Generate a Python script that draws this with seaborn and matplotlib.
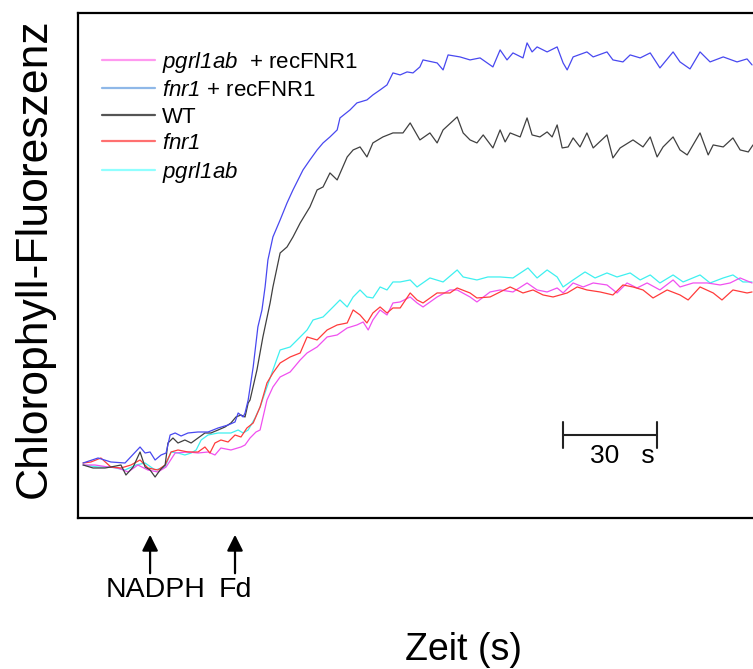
import pandas as pd
import seaborn as sns
import matplotlib.pyplot as plt
from matplotlib.lines import Line2D

sns.set_theme(style="white")
plt.rcParams['font.family'] = ['Liberation Sans', 'DejaVu Sans']
plt.rcParams['text.color'] = 'black'
# only the mutant names are in math mode, so make math mode italic throughout
plt.rcParams['mathtext.fontset'] = 'custom'
plt.rcParams['mathtext.rm'] = 'Liberation Sans:italic'
plt.rcParams['mathtext.it'] = 'Liberation Sans:italic'

# time (s) and fluorescence (a.u.)
t_fnr1_rec = [1.6, 6.4, 10.5, 15.0, 19.8, 21.4, 23.0, 24.6, 26.5, 28.1, 29.4, 31.0, 32.9, 35.1, 38.3, 41.5,
              44.7, 47.9, 50.1, 51.1, 52.7, 53.3, 54.3, 55.9, 57.4, 58.7, 59.7, 60.6, 62.2, 64.5, 66.7, 68.6,
              70.2, 71.8, 74.0, 76.3, 78.2, 80.4, 82.7, 83.6, 86.8, 89.0, 92.2, 94.1, 96.4, 98.6, 100.5, 102.8,
              105.0, 106.9, 109.1, 110.1, 114.6, 116.5, 118.1, 121.9, 125.1, 128.3, 132.4, 134.7, 136.9, 138.8,
              142.0, 143.3, 144.9, 146.5, 149.7, 152.9, 154.8, 156.1, 158.0, 162.4, 164.4, 168.8, 170.7, 173.9,
              176.2, 179.4, 182.6, 185.7, 189.9, 192.1, 195.3, 198.5, 201.7, 205.9, 210.3, 213.5, 215.1]
f_fnr1_rec = [55, 60, 56, 55, 71, 65, 66, 58, 63, 65, 83, 85, 82, 85, 86, 86,
              90, 93, 96, 105, 101, 105, 118, 151, 191, 208, 231, 258, 281, 298, 315, 328,
              338, 348, 358, 368, 375, 381, 388, 400, 408, 415, 418, 423, 428, 433, 445, 443,
              446, 445, 451, 458, 455, 448, 463, 461, 458, 460, 451, 468, 458, 465,
              460, 475, 466, 471, 466, 471, 455, 448, 461, 466, 461, 466, 458, 456,
              463, 460, 465, 450, 466, 456, 449, 466, 456, 461, 456, 459, 453]

t_wt = [1.6, 4.8, 8.6, 10.5, 13.7, 15.3, 17.6, 19.8, 21.4, 23.0, 24.6, 26.2, 27.8, 28.7, 30.3, 31.9,
        34.1, 36.1, 38.3, 40.5, 42.4, 44.7, 46.9, 48.8, 50.4, 52.0, 53.3, 54.3, 54.9, 57.1, 59.0, 61.3,
        62.2, 64.5, 66.7, 68.6, 70.9, 74.0, 76.3, 78.2, 80.4, 82.7, 85.9, 87.8, 90.0, 92.2, 94.1, 97.3,
        100.5, 103.7, 106.0, 109.1, 112.3, 114.6, 116.5, 121.0, 122.9, 125.1, 127.3, 129.3, 132.4, 134.7,
        136.3, 137.9, 141.1, 143.3, 144.9, 147.4, 149.7, 151.3, 152.9, 154.5, 156.4, 158.0, 160.2, 162.4,
        164.4, 168.8, 170.7, 173.0, 177.1, 180.3, 182.6, 184.8, 186.7, 189.9, 192.1, 194.4, 198.5, 201.1,
        202.7, 205.9, 209.0, 211.3, 213.9, 215.4]
f_wt = [53, 50, 50, 51, 53, 43, 51, 66, 51, 48, 41, 48, 53, 75, 80, 75,
        78, 75, 80, 85, 85, 88, 91, 95, 101, 103, 101, 115, 118, 148, 181, 215,
        231, 265, 271, 281, 295, 311, 328, 331, 345, 338, 361, 368, 371, 361, 375, 381,
        385, 385, 395, 378, 385, 375, 388, 401, 385, 378, 375, 383, 370, 388,
        376, 385, 381, 400, 383, 381, 386, 381, 393, 370, 371, 380, 371, 385,
        370, 383, 360, 370, 378, 371, 381, 361, 371, 381, 368, 363, 385, 363,
        373, 371, 380, 368, 366, 373]

t_pgrl = [1.6, 6.4, 10.5, 15.0, 18.5, 21.4, 24.6, 27.8, 29.7, 31.9, 34.1, 36.1, 37.7, 39.3, 41.5, 44.7,
          48.8, 51.1, 52.7, 54.3, 56.5, 58.1, 60.3, 62.2, 64.5, 67.7, 70.9, 73.1, 75.0, 78.2, 81.4, 83.6,
          85.9, 87.8, 90.0, 92.2, 94.1, 96.4, 98.6, 100.5, 102.8, 106.0, 108.2, 112.3, 116.5, 121.0, 122.9,
          127.3, 130.8, 134.7, 138.8, 143.6, 146.5, 149.7, 152.9, 154.8, 158.0, 161.8, 165.0, 168.8, 172.0,
          176.2, 179.4, 182.6, 185.7, 189.9, 193.1, 198.5, 201.7, 205.9, 209.0, 212.2, 215.1]
f_pgrl = [53, 51, 51, 48, 53, 55, 48, 51, 66, 65, 63, 65, 68, 78, 83, 85,
          85, 88, 85, 88, 100, 111, 131, 148, 168, 171, 181, 188, 198, 201, 211, 218,
          211, 221, 228, 221, 220, 231, 228, 236, 236, 238, 231, 240, 236, 248, 241,
          238, 241, 241, 240, 250, 240, 248, 241, 231, 238, 246, 240, 245, 241,
          245, 238, 243, 235, 243, 236, 243, 235, 240, 243, 236, 236]

t_fnr1 = [1.6, 4.1, 7.3, 10.5, 13.7, 16.9, 19.8, 22.3, 25.5, 27.8, 29.7, 31.9, 35.1, 38.3, 40.5, 42.1,
          43.7, 45.6, 47.9, 50.1, 52.0, 53.9, 55.9, 58.1, 60.3, 62.2, 64.5, 67.7, 70.9, 73.1, 76.3, 79.5,
          82.7, 85.9, 87.8, 90.0, 92.2, 94.1, 96.4, 98.6, 100.5, 102.8, 106.0, 108.2, 110.1, 114.6, 118.7,
          121.0, 125.1, 127.3, 131.5, 134.7, 137.9, 142.0, 145.2, 148.4, 151.6, 156.1, 159.3, 162.4, 166.6,
          170.7, 173.9, 177.1, 180.3, 183.5, 188.0, 192.1, 194.7, 198.5, 202.7, 205.5, 209.0, 213.5, 215.1]
f_fnr1 = [55, 56, 60, 51, 50, 53, 58, 50, 48, 53, 66, 68, 66, 66, 71, 65,
          75, 78, 76, 83, 81, 90, 95, 111, 135, 145, 155, 161, 165, 181, 178, 188,
          193, 195, 208, 203, 195, 205, 211, 205, 210, 210, 225, 218, 215, 225, 225,
          230, 225, 220, 221, 226, 231, 225, 228, 223, 221, 225, 231, 228, 226,
          223, 233, 231, 228, 220, 228, 223, 218, 231, 225, 218, 228, 225, 226]

t_pgrl_rec = [1.6, 5.4, 9.6, 12.8, 16.0, 19.1, 22.3, 25.5, 28.1, 31.0, 35.1, 38.3, 41.5, 43.7, 45.6, 48.8,
              52.0, 53.3, 54.9, 56.8, 58.1, 60.3, 62.2, 64.5, 67.7, 70.9, 73.1, 76.3, 79.5, 82.7, 85.9, 89.0,
              91.0, 92.6, 94.1, 96.4, 98.6, 100.5, 102.8, 106.0, 108.2, 110.1, 114.6, 118.7, 121.0, 125.1,
              127.3, 131.5, 134.7, 138.8, 143.3, 146.5, 149.7, 152.9, 154.8, 158.0, 161.2, 164.4, 168.8,
              172.0, 175.2, 178.4, 181.6, 185.7, 189.9, 192.1, 196.3, 200.8, 204.9, 208.1, 211.3, 215.1]
f_pgrl_rec = [53, 53, 51, 50, 46, 53, 48, 46, 51, 65, 66, 65, 66, 63, 70, 68,
              71, 73, 80, 86, 88, 118, 131, 141, 146, 158, 165, 171, 181, 183, 190, 193,
              196, 188, 198, 208, 203, 215, 216, 221, 215, 211, 221, 228, 228, 221,
              216, 226, 228, 226, 235, 228, 226, 230, 225, 235, 231, 235, 233,
              225, 235, 230, 235, 228, 238, 231, 235, 235, 233, 235, 240, 235]

samples = ["pgrl1ab", "pgrl1ab + recFNR1", "fnr1", "WT", "fnr1 + recFNR1"]
series = {
    "pgrl1ab": (t_pgrl, f_pgrl),
    "pgrl1ab + recFNR1": (t_pgrl_rec, f_pgrl_rec),
    "fnr1": (t_fnr1, f_fnr1),
    "WT": (t_wt, f_wt),
    "fnr1 + recFNR1": (t_fnr1_rec, f_fnr1_rec),
}
df = pd.concat([pd.DataFrame({"t": t, "F": f, "sample": s}) for s, (t, f) in series.items()])

colors = {"pgrl1ab": "#3ff0f0", "pgrl1ab + recFNR1": "#f050f0", "fnr1": "#ff3b3b",
          "WT": "#404040", "fnr1 + recFNR1": "#4848f0"}
legend_colors = ["#ff99f0", "#8fb8e8", "#555555", "#ff7070", "#90ffff"]
legend_labels = [r"$pgrl1ab$  + recFNR1", r"$fnr1$ + recFNR1", "WT", r"$fnr1$", r"$pgrl1ab$"]

fig = plt.figure(figsize=(7.53, 6.69), dpi=100)
ax = fig.add_axes([0.1036, 0.2257, 0.8964, 0.755])

sns.lineplot(data=df, x="t", y="F", hue="sample", hue_order=samples, palette=colors,
             estimator=None, sort=False, linewidth=0.9, legend=False, ax=ax)

ax.set_xlim(0, 215.4)
ax.set_ylim(0, 505)
ax.set_xticks([])
ax.set_yticks([])
ax.set_xlabel("")
ax.set_ylabel("")
for side in ["left", "top", "bottom"]:
    ax.spines[side].set_color("black")
    ax.spines[side].set_linewidth(1.6)
ax.spines["right"].set_visible(False)

handles = [Line2D([], [], color=c, lw=1.6) for c in legend_colors]
ax.legend(handles, legend_labels, loc="upper left", bbox_to_anchor=(0.0224, 0.945), frameon=False,
          fontsize=16, handlelength=2.4, handletextpad=0.3, labelspacing=0.25, borderaxespad=0)

# scale bar 30 s
ax.plot([154.8, 184.8], [83, 83], color="#222222", lw=1.5)
ax.plot([154.8, 154.8], [70, 96], color="#222222", lw=1.5)
ax.plot([184.8, 184.8], [70, 96], color="#222222", lw=1.5)
ax.text(173.6, 62, "30   s", ha="center", va="center", fontsize=19)

# additions
for xa, lab, dx in [(23.0, "NADPH", 1.9), (50.1, "Fd", 0.0)]:
    ax.annotate("", xy=(xa, -14), xytext=(xa, -58), annotation_clip=False,
                arrowprops=dict(arrowstyle="-|>", mutation_scale=24, lw=1.6, color="black"))
    ax.text(xa + dx, -72, lab, ha="center", va="center", fontsize=20.5, clip_on=False)

fig.text(0.615, 0.028, "Zeit (s)", ha="center", va="center", fontsize=27)
fig.text(0.046, 0.614, "Chlorophyll-Fluoreszenz", ha="center", va="center", rotation=90, fontsize=32)

fig.savefig("out.png", dpi=100)
